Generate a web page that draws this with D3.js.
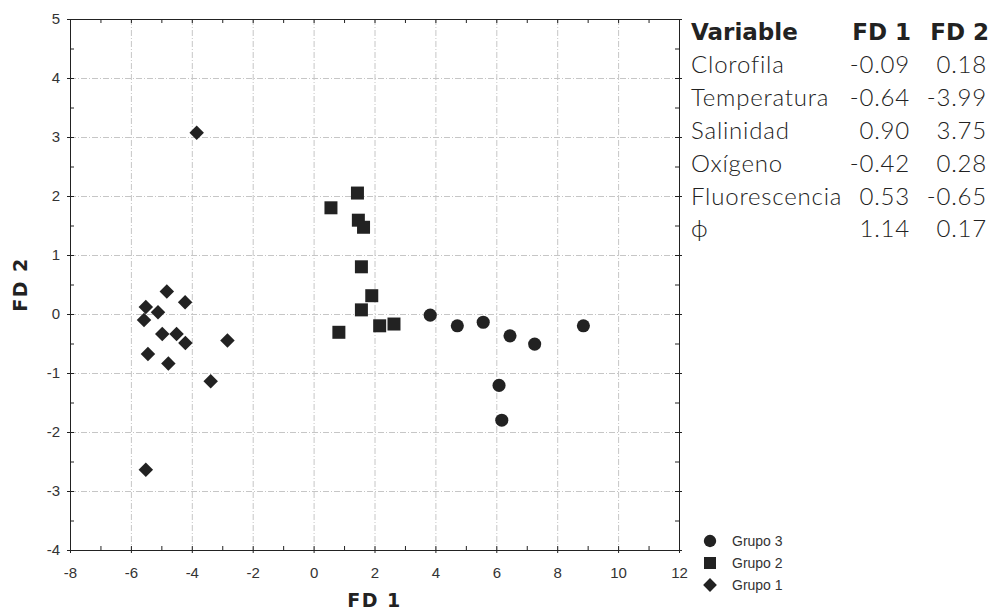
<!DOCTYPE html>
<html>
<head>
<meta charset="utf-8">
<script src="https://cdn.jsdelivr.net/npm/d3@7"></script>
<style>
  body { margin: 0; background: #fff; }
  svg { display: block; }
  .tick-lbl { font-family: "Liberation Sans", Arial, sans-serif; font-size: 15px; fill: #333; }
  .tbl { font-family: Lato, "Open Sans", sans-serif; font-size: 24px; fill: #222; font-weight: 300; letter-spacing: 0.8px; }
  .tbl-h { font-family: "DejaVu Sans", sans-serif; font-size: 23px; fill: #222; font-weight: bold; }
  .ax-title { font-family: "DejaVu Sans", sans-serif; font-size: 19px; font-weight: bold; fill: #222; letter-spacing: 1.5px; }
</style>
</head>
<body>
<div id="chart"></div>
<script>
// grupo 1 (diamonds)
const g1x = [-3.84, -4.82, -4.22, -5.51, -5.11, -5.57, -4.97, -4.50, -4.21, -2.83, -5.44, -4.77, -3.38, -5.51];
const g1y = [3.07, 0.38, 0.20, 0.12, 0.03, -0.10, -0.34, -0.34, -0.49, -0.45, -0.68, -0.84, -1.14, -2.64];
// grupo 2 (squares)
const g2x = [1.44, 0.57, 1.47, 1.64, 1.57, 1.91, 1.57, 0.83, 2.17, 2.64];
const g2y = [2.05, 1.80, 1.59, 1.47, 0.80, 0.31, 0.07, -0.31, -0.20, -0.17];
// grupo 3 (circles)
const g3x = [3.83, 4.72, 5.57, 6.45, 7.26, 8.86, 6.09, 6.18];
const g3y = [-0.02, -0.20, -0.14, -0.37, -0.51, -0.20, -1.21, -1.80];

const xTicks = [-8, -6, -4, -2, 0, 2, 4, 6, 8, 10, 12];
const yTicks = [-4, -3, -2, -1, 0, 1, 2, 3, 4, 5];

const legendNames = ["Grupo 3", "Grupo 2", "Grupo 1"];

const tblHeader = ["Variable", "FD 1", "FD 2"];
const tblVars = ["Clorofila", "Temperatura", "Salinidad", "Oxígeno", "Fluorescencia", "\u03D5"];
const tblFd1 = ["-0.09", "-0.64", "0.90", "-0.42", "0.53", "1.14"];
const tblFd2 = ["0.18", "-3.99", "3.75", "0.28", "-0.65", "0.17"];

const W = 1000, H = 614;
const svg = d3.select("#chart").append("svg").attr("width", W).attr("height", H);

const x = d3.scaleLinear().domain([-8, 12]).range([70, 679]);
const y = d3.scaleLinear().domain([-4, 5]).range([550, 19]);
const ink = "#222";

// grid (dash-dot)
const grid = svg.append("g").attr("stroke", "#c6c6c6").attr("stroke-width", 1).attr("stroke-dasharray", "6,2,1,2");
grid.selectAll(".gx").data(xTicks.slice(1, -1)).enter().append("line")
  .attr("x1", d => x(d) + 0.5).attr("x2", d => x(d) + 0.5).attr("y1", y(5)).attr("y2", y(-4));
grid.selectAll(".gy").data(yTicks.slice(1, -1)).enter().append("line")
  .attr("y1", d => y(d) + 0.5).attr("y2", d => y(d) + 0.5).attr("x1", x(-8)).attr("x2", x(12));

// axes
function styleAxis(g) {
  g.select(".domain").attr("stroke", ink);
  g.selectAll(".tick line").attr("stroke", ink);
  g.selectAll(".tick text").attr("class", "tick-lbl").attr("font-family", null).attr("font-size", null).attr("fill", null);
}
const fmtInt = d => Number.isInteger(d) && d % 2 === 0 ? d : "";
svg.append("g").attr("transform", `translate(0,${y(-4)})`)
  .call(d3.axisBottom(x).tickValues(d3.range(-8, 12.01, 1)).tickSizeInner(-4).tickSizeOuter(0).tickPadding(17).tickFormat(fmtInt))
  .call(styleAxis);
svg.append("g").attr("transform", `translate(${x(-8)},0)`)
  .call(d3.axisLeft(y).tickValues(d3.range(-4, 5.01, 0.5)).tickSizeInner(-4).tickSizeOuter(0).tickPadding(10)
    .tickFormat(d => Number.isInteger(d) ? d : ""))
  .call(styleAxis);
svg.append("g").attr("transform", `translate(0,${y(5)})`)
  .call(d3.axisTop(x).tickValues(d3.range(-8, 12.01, 1)).tickSizeInner(-4).tickSizeOuter(0).tickFormat(""))
  .call(styleAxis);
svg.append("g").attr("transform", `translate(${x(12)},0)`)
  .call(d3.axisRight(y).tickValues(d3.range(-4, 5.01, 0.5)).tickSizeInner(-4).tickSizeOuter(0).tickFormat(""))
  .call(styleAxis);
// small outward marks at the major ticks
svg.append("g").attr("transform", `translate(${x(-8)},0)`)
  .call(d3.axisLeft(y).tickValues(yTicks).tickSize(3).tickFormat("")).call(styleAxis);
svg.append("g").attr("transform", `translate(${x(12)},0)`)
  .call(d3.axisRight(y).tickValues(yTicks).tickSize(3).tickFormat("")).call(styleAxis);
svg.append("g").attr("transform", `translate(0,${y(-4)})`)
  .call(d3.axisBottom(x).tickValues(xTicks).tickSize(3).tickFormat("")).call(styleAxis);

// axis titles
svg.append("text").attr("class", "ax-title").attr("text-anchor", "middle")
  .attr("x", (x(-8) + x(12)) / 2).attr("y", 607).text("FD 1");
svg.append("text").attr("class", "ax-title").attr("text-anchor", "middle")
  .attr("transform", `translate(27,${(y(5) + y(-4)) / 2}) rotate(-90)`).text("FD 2");

// points
const diamond = d3.symbol().type(d3.symbolSquare).size(105)();
const square = d3.symbol().type(d3.symbolSquare).size(169)();
const circle = d3.symbol().type(d3.symbolCircle).size(135)();
const pts = svg.append("g").attr("fill", ink);
pts.selectAll(".g1").data(g1x.map((v, i) => [v, g1y[i]])).enter().append("path")
  .attr("d", diamond).attr("transform", d => `translate(${x(d[0])},${y(d[1])}) rotate(45)`);
pts.selectAll(".g2").data(g2x.map((v, i) => [v, g2y[i]])).enter().append("path")
  .attr("d", square).attr("transform", d => `translate(${x(d[0])},${y(d[1])})`);
pts.selectAll(".g3").data(g3x.map((v, i) => [v, g3y[i]])).enter().append("path")
  .attr("d", circle).attr("transform", d => `translate(${x(d[0])},${y(d[1])})`);

// legend
const legShapes = [d3.symbol().type(d3.symbolCircle).size(120)(), d3.symbol().type(d3.symbolSquare).size(144)(), d3.symbol().type(d3.symbolSquare).size(95)()];
const leg = svg.append("g").attr("transform", "translate(710,541)");
const li = leg.selectAll(".li").data(legendNames).enter().append("g")
  .attr("transform", (d, i) => `translate(0,${i * 22})`);
li.append("path").attr("d", (d, i) => legShapes[i]).attr("fill", ink)
  .attr("transform", (d, i) => i === 2 ? "rotate(45)" : null);
li.append("text").attr("x", 22).attr("y", 5).attr("font-family", "Liberation Sans, Arial, sans-serif")
  .attr("font-size", 14).attr("fill", "#333").text(d => d);

// table
const tbl = svg.append("g");
const rowY = i => 73.3 + i * 32.8;
tbl.append("text").attr("class", "tbl-h").attr("x", 691).attr("y", 40).text(tblHeader[0]);
tbl.append("text").attr("class", "tbl-h").attr("x", 911).attr("y", 40).attr("text-anchor", "end").text(tblHeader[1]);
tbl.append("text").attr("class", "tbl-h").attr("x", 989).attr("y", 40).attr("text-anchor", "end").text(tblHeader[2]);
tbl.selectAll(".v").data(tblVars).enter().append("text").attr("class", "tbl")
  .attr("x", 691).attr("y", (d, i) => rowY(i)).text(d => d);
tbl.selectAll(".f1").data(tblFd1).enter().append("text").attr("class", "tbl").attr("text-anchor", "end")
  .attr("x", 910).attr("y", (d, i) => rowY(i)).text(d => d);
tbl.selectAll(".f2").data(tblFd2).enter().append("text").attr("class", "tbl").attr("text-anchor", "end")
  .attr("x", 987).attr("y", (d, i) => rowY(i)).text(d => d);
</script>
</body>
</html>
